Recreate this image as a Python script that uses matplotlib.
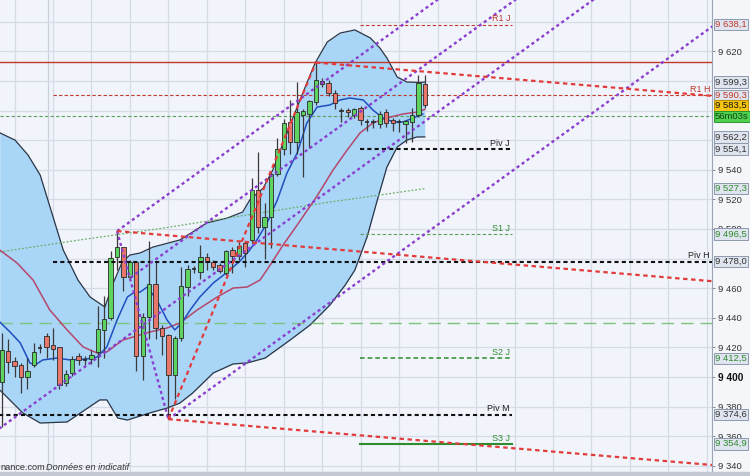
import matplotlib
matplotlib.use('Agg')
import matplotlib.pyplot as plt
import matplotlib.transforms as mtrans
from matplotlib.ticker import FuncFormatter, FixedLocator
from matplotlib.patches import Rectangle
import numpy as np

# ---------------- candle data (index 0..66) ----------------
opens = [9396.6, 9417.6, 9410.8, 9408.0, 9400.0, 9408.0, 9419.5, 9427.7, 9421.6, 9420.3,
         9396.0, 9402.7, 9414.0, 9411.5, 9412.0, 9417.0, 9431.8, 9440.0, 9481.0, 9487.5,
         9467.6, 9477.7, 9414.0, 9440.5, 9463.0, 9433.0, 9428.4, 9401.4, 9426.4, 9460.8,
         9473.0, 9471.0, 9481.0, 9477.7, 9475.7, 9470.0, 9486.0, 9481.8, 9490.5, 9492.6,
         9526.4, 9501.4, 9508.0, 9537.0, 9554.0, 9572.0, 9558.8, 9577.0, 9578.0, 9586.0,
         9600.0, 9598.6, 9592.0, 9580.0, 9580.5, 9577.0, 9581.8, 9572.5, 9572.5, 9570.9,
         9579.0, 9573.6, 9572.0, 9571.0, 9572.3, 9577.0, 9598.0]
highs = [9429.7, 9426.0, 9413.5, 9409.5, 9413.0, 9423.0, 9422.0, 9429.7, 9433.0, 9420.5,
         9404.7, 9414.0, 9416.0, 9414.0, 9418.0, 9448.0, 9455.0, 9485.0, 9498.6, 9488.0,
         9479.0, 9478.0, 9443.0, 9492.0, 9477.7, 9435.0, 9429.0, 9427.7, 9474.0, 9476.0,
         9475.0, 9489.0, 9484.0, 9479.0, 9477.0, 9486.0, 9488.0, 9491.0, 9492.0, 9534.5,
         9552.0, 9517.6, 9538.0, 9561.5, 9574.0, 9587.0, 9599.0, 9581.0, 9587.0, 9612.5,
         9602.0, 9601.0, 9594.0, 9582.0, 9582.0, 9582.0, 9583.0, 9574.0, 9574.0, 9580.0,
         9581.0, 9575.0, 9574.0, 9573.5, 9582.0, 9604.0, 9604.0]
lows = [9366.0, 9403.0, 9400.0, 9389.0, 9392.0, 9407.0, 9416.0, 9413.0, 9411.5, 9392.0,
        9394.0, 9401.0, 9408.0, 9408.0, 9409.0, 9406.7, 9413.0, 9438.5, 9472.0, 9458.0,
        9466.0, 9404.0, 9398.0, 9426.0, 9426.0, 9415.0, 9371.5, 9385.0, 9424.0, 9455.0,
        9470.0, 9466.0, 9472.0, 9472.0, 9470.0, 9469.0, 9470.0, 9479.0, 9474.3, 9490.5,
        9497.0, 9479.7, 9487.0, 9536.0, 9550.0, 9551.0, 9551.0, 9535.0, 9555.0, 9584.0,
        9596.0, 9590.0, 9581.0, 9572.0, 9576.0, 9575.0, 9570.0, 9566.0, 9568.0, 9568.0,
        9569.0, 9566.0, 9565.7, 9558.0, 9559.0, 9576.0, 9582.0]
closes = [9418.2, 9410.0, 9407.4, 9400.0, 9404.0, 9417.0, 9419.6, 9420.3, 9418.9, 9394.6,
          9402.0, 9412.0, 9411.5, 9411.6, 9414.9, 9432.4, 9439.0, 9480.4, 9487.5, 9467.6,
          9477.7, 9414.0, 9440.5, 9463.0, 9433.0, 9427.7, 9401.4, 9426.4, 9461.5, 9473.0,
          9473.2, 9481.0, 9477.7, 9474.3, 9471.6, 9485.0, 9481.8, 9488.5, 9483.8, 9526.4,
          9501.4, 9508.0, 9537.0, 9554.0, 9571.6, 9558.6, 9579.0, 9580.0, 9586.5, 9600.7,
          9598.0, 9591.9, 9584.8, 9579.5, 9579.0, 9581.0, 9573.6, 9572.6, 9572.4, 9577.7,
          9571.6, 9571.6, 9572.0, 9573.0, 9577.0, 9598.6, 9583.5]

# ---------------- Bollinger bands & moving averages ----------------
bb_up_x = [-0.3, 2.1, 4.1, 6.0, 7.2, 9.6, 11.9, 13.8, 16.1, 17.4, 18.8, 20.0, 21.6, 23.6, 27.8,
           29.8, 32.0, 35.2, 37.6, 38.7, 40.8, 42.3, 43.9, 46.1, 47.6, 48.9, 50.8, 52.8, 55.1,
           57.5, 59.0, 60.1, 61.7, 63.2, 65.3, 66.0]
bb_up_y = [9565.0, 9560.0, 9550.0, 9536.5, 9519.6, 9485.8, 9465.5, 9454.0, 9447.3, 9463.5,
           9477.7, 9482.4, 9483.8, 9487.8, 9492.6, 9498.0, 9504.1, 9507.4, 9511.5, 9519.6,
           9527.7, 9539.9, 9558.1, 9582.4, 9598.6, 9612.2, 9626.4, 9632.4, 9634.5, 9629.1,
           9622.3, 9615.5, 9602.7, 9599.3, 9599.0, 9599.3]
bb_lo_x = [-0.3, 3.3, 6.0, 10.2, 15.3, 16.4, 18.1, 19.6, 23.1, 25.8, 27.8, 29.8, 33.0, 36.1,
           38.3, 41.1, 45.0, 48.1, 51.2, 53.6, 55.1, 57.0, 58.6, 60.1, 61.7, 63.2, 64.8, 66.0]
bb_lo_y = [9391.2, 9375.7, 9368.9, 9369.6, 9384.5, 9384.5, 9372.3, 9370.9, 9375.7, 9379.0,
           9382.4, 9389.2, 9402.7, 9408.8, 9409.5, 9412.8, 9425.0, 9435.1, 9448.6, 9462.2,
           9472.3, 9494.6, 9519.6, 9541.9, 9555.4, 9560.1, 9562.2, 9562.2]
ma20_x = [-0.3, 2.4, 4.9, 7.5, 10.2, 12.7, 14.9, 16.4, 18.9, 20.5, 23.1, 25.8, 27.8, 30.5,
          33.6, 36.1, 38.3, 40.3, 41.9, 43.9, 46.1, 49.2, 51.7, 53.9, 55.9, 57.9, 60.1, 62.6,
          64.8, 66.0]
ma20_y = [9485.8, 9477.0, 9465.5, 9445.3, 9431.8, 9420.3, 9416.2, 9416.9, 9425.0, 9427.0,
          9430.4, 9433.1, 9436.5, 9445.3, 9454.0, 9460.1, 9460.8, 9465.5, 9475.7, 9489.2,
          9502.7, 9522.3, 9539.9, 9553.4, 9564.9, 9571.6, 9575.0, 9577.7, 9579.0, 9580.8]
ma_fast_x = [-0.3, 1.3, 2.9, 4.4, 5.2, 6.4, 8.6, 10.7, 13.3, 14.9, 16.4, 18.0, 19.6, 20.5,
             21.6, 22.7, 24.2, 25.8, 27.0, 28.1, 29.4, 30.9, 33.0, 35.2, 37.2, 38.7, 39.8,
             41.4, 43.0, 44.5, 46.1, 47.6, 49.2, 51.2, 52.8, 54.3, 56.4, 57.9, 59.5, 61.1,
             62.6, 64.2, 65.7]
ma_fast_y = [9437.2, 9430.4, 9423.0, 9409.5, 9408.1, 9411.5, 9412.8, 9411.5, 9412.2, 9413.5,
             9420.3, 9438.5, 9454.0, 9456.7, 9457.4, 9460.8, 9452.0, 9438.5, 9431.8, 9436.5,
             9445.3, 9454.0, 9463.5, 9470.9, 9478.4, 9485.8, 9492.6, 9504.1, 9519.6, 9537.8,
             9551.4, 9571.6, 9582.4, 9583.8, 9587.2, 9588.5, 9587.2, 9580.4, 9575.0, 9572.3,
             9572.3, 9575.0, 9577.7]
ma_slow_x = [-0.3, 12.2, 24.7, 38.3, 51.2, 66.0]
ma_slow_y = [9484.5, 9492.6, 9500.3, 9509.5, 9518.2, 9527.3]

# ---------------- levels ----------------
day_levels = {"R1 J": 9638.1, "Piv J": 9554.1, "S1 J": 9496.5, "S2 J": 9412.5, "S3 J": 9354.9}
piv_h = 9478.0
r1_h = 9590.3
piv_m = 9374.6
red_solid = 9612.6
green_level = 9576.2
green_long = 9436.8

# axis tick labels that are not hidden behind price boxes
tick_values = [9340, 9360, 9380, 9400, 9420, 9440, 9460, 9500, 9520, 9540, 9620]
grid_values = list(range(9340, 9660, 20))

# right-hand price boxes: (text, value, text colour, face colour)
price_boxes = [("9 638,1", 9638.1, "#c0392b", "#dfe4ee"),
               ("9 599,3", 9599.3, "#333333", "#dfe4ee"),
               ("9 590,3", 9590.3, "#c0392b", "#dfe4ee"),
               ("9 583,5", 9583.5, "#111111", "#f6c412"),
               ("56m03s", 9576.0, "#114411", "#4fd14f"),
               ("9 562,2", 9562.2, "#333333", "#dfe4ee"),
               ("9 554,1", 9554.1, "#333333", "#dfe4ee"),
               ("9 527,3", 9527.3, "#2e8b2e", "#dfe4ee"),
               ("9 496,5", 9496.5, "#2e8b2e", "#dfe4ee"),
               ("9 478,0", 9478.0, "#333333", "#dfe4ee"),
               ("9 412,5", 9412.5, "#2e8b2e", "#dfe4ee"),
               ("9 374,6", 9374.6, "#333333", "#dfe4ee"),
               ("9 354,9", 9354.9, "#2e8b2e", "#dfe4ee")]

# trend geometry
fork_slope = 3.127      # price per candle (purple channel)
red_slope = -0.365      # price per candle (red descending lines)
x_end = 111.5
x_left, x_right = -0.265, 110.81
y_bot, y_top = 9335.8, 9654.73

FONT = ["Liberation Sans", "DejaVu Sans"]
plt.rcParams['font.family'] = FONT

# ---------------- figure ----------------
fig = plt.figure(figsize=(7.5, 4.76), dpi=100, facecolor="#f4f6fa")
ax = fig.add_axes([0, 4 / 476, 712 / 750, 472 / 476])
ax.set_facecolor("#f1f4fa")
ax.set_xlim(x_left, x_right)
ax.set_ylim(y_bot, y_top)

# grid
for gx in range(2, 112, 6):
    ax.axvline(gx, color="#d6dce7", lw=0.9, zorder=0)
ax.axvline(7.3, color="#c9d0dc", lw=0.9, zorder=0)
for gy in grid_values:
    ax.axhline(gy, color="#d6dce7", lw=0.9, zorder=0)

# Bollinger fill
xs = np.linspace(-0.3, 66.0, 400)
up_i = np.interp(xs, bb_up_x, bb_up_y)
lo_i = np.interp(xs, bb_lo_x, bb_lo_y)
ax.fill_between(xs, lo_i, up_i, color="#a9d5f7", lw=0, zorder=1)
ax.plot(bb_up_x, bb_up_y, color="#2b3645", lw=0.9, zorder=2)
ax.plot(bb_lo_x, bb_lo_y, color="#2b3645", lw=0.9, zorder=2)

# horizontal levels
ax.axhline(red_solid, color="#c0392b", lw=1.0, zorder=3)
ax.plot([8.0, x_end], [r1_h, r1_h], color="#c0392b", lw=0.8, ls=(0, (3, 2)), zorder=3)
ax.axhline(green_level, color="#5aa05a", lw=0.8, ls=(0, (3, 2)), zorder=3)
ax.axhline(green_long, color="#7cc47c", lw=1.0, ls=(0, (9, 5)), zorder=3)
ax.plot([8.0, x_end], [piv_h, piv_h], color="#111111", lw=1.5, ls=(0, (2, 1.5)), zorder=6)
ax.plot([-1, 79.6], [piv_m, piv_m], color="#111111", lw=1.5, ls=(0, (2, 1.5)), zorder=6)

day_x0, day_x1 = 55.9, 79.6
styles = {"R1 J": dict(color="#c0392b", lw=0.8, ls=(0, (3, 2))),
          "Piv J": dict(color="#111111", lw=1.5, ls=(0, (2, 1.5))),
          "S1 J": dict(color="#5aa05a", lw=0.8, ls=(0, (3, 2))),
          "S2 J": dict(color="#2e8b2e", lw=1.1, ls=(0, (3, 2))),
          "S3 J": dict(color="#2e8b2e", lw=1.5, ls="-")}
label_col = {"R1 J": "#c0392b", "Piv J": "#222222", "S1 J": "#2e8b2e",
             "S2 J": "#2e8b2e", "S3 J": "#2e8b2e"}
for name, val in day_levels.items():
    ax.plot([day_x0, day_x1], [val, val], zorder=6, **styles[name])
    ax.text(day_x1 - 0.3, val + 0.8, name, ha="right", va="bottom", fontsize=6.5,
            color=label_col[name], zorder=9)
ax.text(x_right - 0.3, r1_h + 0.8, "R1 H", ha="right", va="bottom", fontsize=6.5,
        color="#c0392b", zorder=9)
ax.text(x_right - 0.3, piv_h + 0.8, "Piv H", ha="right", va="bottom", fontsize=6.5,
        color="#222222", zorder=9)
ax.text(day_x1 - 0.3, piv_m + 0.8, "Piv M", ha="right", va="bottom", fontsize=6.5,
        color="#222222", zorder=9)

# slow MA (green dotted)
ax.plot(ma_slow_x, ma_slow_y, color="#6ab06a", lw=0.9, ls=(0, (1.5, 1.5)), zorder=3)

# moving averages
ax.plot(ma20_x, ma20_y, color="#b5476b", lw=1.1, zorder=4)
ax.plot(ma_fast_x, ma_fast_y, color="#1f4fbf", lw=1.1, zorder=4)

# candles
for i, (o, h, l, c) in enumerate(zip(opens, highs, lows, closes)):
    ax.vlines(i, l, h, color="#3a3a3a", lw=0.9, zorder=5)
    lo_b, hi_b = min(o, c), max(o, c)
    if hi_b - lo_b < 0.6:
        ax.hlines((o + c) / 2, i - 0.34, i + 0.34, color="#2a2a2a", lw=1.2, zorder=5.5)
    else:
        col = "#5fd35f" if c > o else "#e8776a"
        ax.bar(i, hi_b - lo_b, bottom=lo_b, width=0.68, color=col, edgecolor="#2a2a2a",
               lw=0.6, zorder=5.5)

# pitchfork (purple)
B = (18, highs[18])
C = (26, lows[26])
purple = dict(color="#8b3fcf", lw=1.7, ls=(0, (1.3, 1.3)), zorder=7)
fork_x0 = [B[0], 20.1, -1.0, C[0]]
fork_p0 = [B[1], 9467.2, 9363.2, C[1]]
for x0, p0 in zip(fork_x0, fork_p0):
    ax.plot([x0, x_end], [p0, p0 + fork_slope * (x_end - x0)], **purple)
ax.plot([B[0], C[0]], [B[1], C[1]], **purple)

# red dashed lines
redd = dict(color="#e23b3b", lw=1.6, ls=(0, (2, 1.6)), zorder=7)
peak = (49, highs[49])
for x0, p0 in [peak, B, C]:
    ax.plot([x0, x_end], [p0, p0 + red_slope * (x_end - x0)], **redd)
ax.plot([C[0], peak[0]], [C[1], peak[1]], **redd)

# axis styling
for s in ["left", "top", "bottom"]:
    ax.spines[s].set_visible(False)
ax.spines["right"].set_color("#9aa4b4")
ax.spines["right"].set_linewidth(0.8)
ax.set_xticks([])
ax.yaxis.tick_right()
ax.yaxis.set_major_locator(FixedLocator(tick_values))
ax.yaxis.set_major_formatter(FuncFormatter(lambda v, p: f"{int(round(v)):,}".replace(",", " ")))
ax.tick_params(axis="y", length=2.5, width=0.7, color="#7f8a9c", pad=2, labelsize=6.8,
               labelcolor="#333333")
fig.canvas.draw()
for lab in ax.get_yticklabels():
    if lab.get_text() == "9 400":
        lab.set_fontweight("bold")
        lab.set_fontsize(7.3)
        lab.set_color("#111111")

# price boxes
trans = mtrans.blended_transform_factory(ax.transAxes, ax.transData)
for txt, val, tcol, fcol in price_boxes:
    ec = "#8d99ad" if fcol == "#dfe4ee" else ("#b88e00" if fcol == "#f6c412" else "#2a9a2a")
    ax.text(1.0 + 3 / 712, val, txt, transform=trans, ha="left", va="center", fontsize=6.8,
            color=tcol, clip_on=False, zorder=20,
            bbox=dict(boxstyle="square,pad=0.14", fc=fcol, ec=ec, lw=0.7))

# footer
fig.patches.append(Rectangle((0, 0), 1, 4 / 476, transform=fig.transFigure,
                             color="#c3c8d0", zorder=0))
fig.text(0.0, 1 - 467.5 / 476, "nance.com", fontsize=6.6, color="#333333", va="center")
fig.text(46 / 750, 1 - 467.5 / 476, "Données en indicatif", fontsize=6.6, color="#333333",
         va="center", style="italic")

fig.savefig("out.png", dpi=100, facecolor=fig.get_facecolor())
